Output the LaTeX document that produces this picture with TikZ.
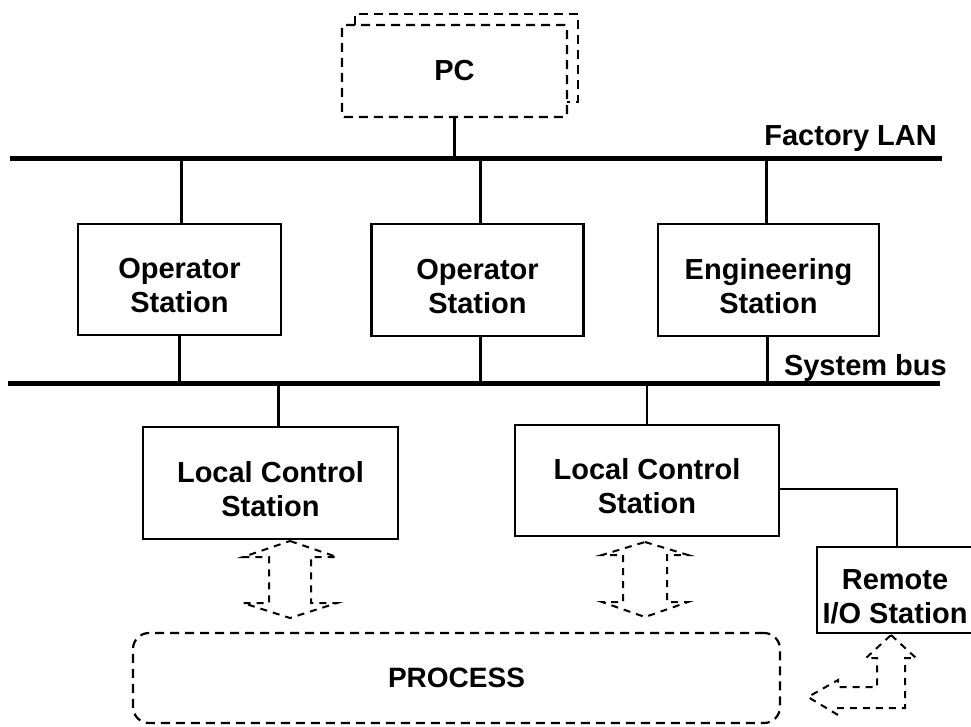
\documentclass[tikz,border=0pt]{standalone}
\usepackage{fontspec}
\setmainfont{Liberation Sans}
\newcommand\hdstrut{\rule{0pt}{33pt}}
\begin{document}
\begin{tikzpicture}[x=1pt,y=-1pt,
  box/.style={draw, line width=2.2pt, inner sep=0pt, align=center,
    font=\bfseries\fontsize{29}{34}\selectfont},
  dbox/.style={box, dash pattern=on 9pt off 6pt},
  lbl/.style={inner sep=0pt, font=\bfseries\fontsize{29}{34}\selectfont},
  bus/.style={line width=5pt},
  wire/.style={line width=2.4pt},
  dsh/.style={line width=2.2pt, dash pattern=on 9pt off 6pt},
  blk/.style={line width=2pt, dash pattern=on 7pt off 6pt, line join=miter}]
\useasboundingbox (0,0) rectangle (971,726);
\clip (0,0) rectangle (971,726);

% network lines
\coordinate (lanL) at (10,158);
\coordinate (lanR) at (942,158);
\coordinate (busL) at (8,383);
\coordinate (busR) at (940,383);
\draw[bus] (lanL) -- (lanR);
\draw[bus] (busL) -- (busR);
\node[lbl, anchor=base east] (lanlbl) at (937,145) {Factory LAN};
\node[lbl, anchor=base east] (buslbl) at (947,375) {System bus};

% PC (stacked)
\draw[dsh] (355,25) -- (355,14) -- (578,14) -- (578,102) -- (567,102);
\node[dbox, rounded corners=2pt, minimum width=225pt, minimum height=92pt] (pc) at (454.5,71) {PC};
\draw[wire] (pc.south) -- (pc.south |- lanL);

% stations
\node[box, minimum width=203pt, minimum height=111pt] (op1) at (179.5,279.5) {\hdstrut Operator\\Station};
\node[box, minimum width=212pt, minimum height=112pt] (op2) at (477.5,280) {\hdstrut Operator\\Station};
\node[box, minimum width=221pt, minimum height=112pt] (eng) at (768.5,280) {\hdstrut Engineering\\Station};

\draw[wire] ([xshift=2pt]op1.north) -- ([xshift=2pt]op1.north |- lanL);
\draw[wire] ([xshift=3pt]op2.north) -- ([xshift=3pt]op2.north |- lanL);
\draw[wire] ([xshift=-2pt]eng.north) -- ([xshift=-2pt]eng.north |- lanL);
\draw[wire] (op1.south) -- (op1.south |- busL);
\draw[wire] ([xshift=3pt]op2.south) -- ([xshift=3pt]op2.south |- busL);
\draw[wire] ([xshift=-1pt]eng.south) -- ([xshift=-1pt]eng.south |- busL);

% local control stations
\node[box, minimum width=255pt, minimum height=112pt] (lcs1) at (270.5,483) {\hdstrut Local Control\\Station};
\node[box, minimum width=264pt, minimum height=111pt] (lcs2) at (647,480.5) {\hdstrut Local Control\\Station};
\draw[wire] ([xshift=8pt]lcs1.north) -- ([xshift=8pt]lcs1.north |- busL);
\draw[wire] (lcs2.north) -- (lcs2.north |- busL);

% remote I/O
\node[box, minimum width=156pt, minimum height=86pt] (rio) at (895,590) {\hdstrut Remote\\I/O Station};
\coordinate (rioJ) at (897,489);
\draw[wire] (lcs2.east |- rioJ) -- (rioJ) -- (rioJ |- rio.north);

% process
\node[dbox, rounded corners=16pt, minimum width=647pt, minimum height=90pt,
  font=\bfseries\fontsize{28}{33}\selectfont] (proc) at (456.5,678) {PROCESS};

% signal exchange arrows
\coordinate (ar1) at (290,541);
\draw[blk] (ar1) -- ++(47,16) -- ++(-26,0) -- ++(0,46) -- ++(26,0) -- ++(-47,15)
  -- ++(-47,-15) -- ++(26,0) -- ++(0,-46) -- ++(-26,0) -- cycle;
\coordinate (ar2) at (645,542);
\draw[blk] (ar2) -- ++(43,13) -- ++(-21,0) -- ++(0,47) -- ++(21,0) -- ++(-43,15)
  -- ++(-43,-15) -- ++(21,0) -- ++(0,-47) -- ++(-21,0) -- cycle;
\coordinate (ar3) at (891,635);
\draw[blk] (ar3) -- (916,658) -- (905,658) -- (905,708) -- (838,708) -- (838,715)
  -- (808,697) -- (838,680) -- (838,687) -- (877,687) -- (877,658) -- (866,658) -- cycle;
\end{tikzpicture}
\end{document}
